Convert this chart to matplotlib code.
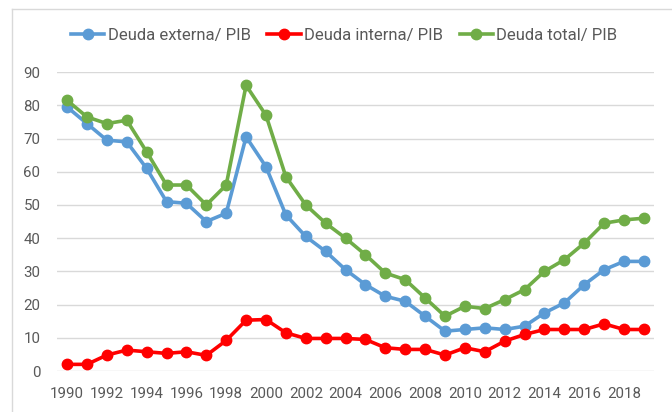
import matplotlib.pyplot as plt
from matplotlib.lines import Line2D

years = list(range(1990, 2020))
deuda_externa = [79.5, 74.5, 69.5, 69, 61, 51, 50.5, 45, 47.5, 70.5,
                 61.5, 47, 40.5, 36, 30.5, 26, 22.5, 21, 16.5, 12,
                 12.5, 13, 12.5, 13.5, 17.5, 20.5, 26, 30.5, 33, 33]
deuda_interna = [2, 2, 4.8, 6.3, 5.8, 5.3, 5.8, 4.7, 9.2, 15.3,
                 15.5, 11.5, 9.8, 9.8, 9.8, 9.5, 7, 6.5, 6.5, 4.8,
                 7, 5.8, 9, 11, 12.5, 12.5, 12.5, 14.2, 12.5, 12.5]
deuda_total = [81.5, 76.5, 74.5, 75.5, 66, 56, 56, 50, 56, 86,
               77, 58.5, 50, 44.5, 40, 35, 29.5, 27.5, 22, 16.5,
               19.5, 18.8, 21.5, 24.5, 30, 33.5, 38.5, 44.5, 45.5, 46]
labels = ['Deuda externa/ PIB', 'Deuda interna/ PIB', 'Deuda total/ PIB']
colors = ['#5B9BD5', '#FF0000', '#70AD47']

plt.rcParams['font.family'] = ['Roboto', 'DejaVu Sans']

fig = plt.figure(figsize=(6.72, 4.12), dpi=100)
ax = fig.add_axes([0.085, 0.0995, 0.888, 0.7255])

x = list(range(len(years)))
for series, lab, col in zip([deuda_externa, deuda_interna, deuda_total], labels, colors):
    ax.plot(x, series, '-o', color=col, lw=2.6, markersize=7.5, label=lab, zorder=3)

ax.set_xlim(-0.5, len(years) - 0.5)
ax.set_ylim(0, 90)
ax.set_yticks(range(0, 91, 10))
ax.set_xticks(x[::2])
ax.set_xticklabels([str(y) for y in years[::2]])
ax.grid(axis='y', color='#D9D9D9', lw=1)
ax.set_axisbelow(True)
for s in ax.spines.values():
    s.set_visible(False)
ax.tick_params(length=0, colors='#595959', labelsize=10.8)
ax.tick_params(axis='y', pad=12)
ax.tick_params(axis='x', pad=11.5)

ax.legend(loc='center', bbox_to_anchor=(0.481, 1.124), ncol=3, frameon=False,
          fontsize=12, handlelength=2.0, handletextpad=0.2, columnspacing=1.0,
          labelcolor='#595959')

# light border of the chart box
fig.add_artist(Line2D([12/672, 12/672], [0, 1 - 9/412], color='#D9D9D9', lw=1, transform=fig.transFigure))
fig.add_artist(Line2D([12/672, 1], [1 - 9/412, 1 - 9/412], color='#D9D9D9', lw=1, transform=fig.transFigure))

fig.savefig('out.png', dpi=100)
